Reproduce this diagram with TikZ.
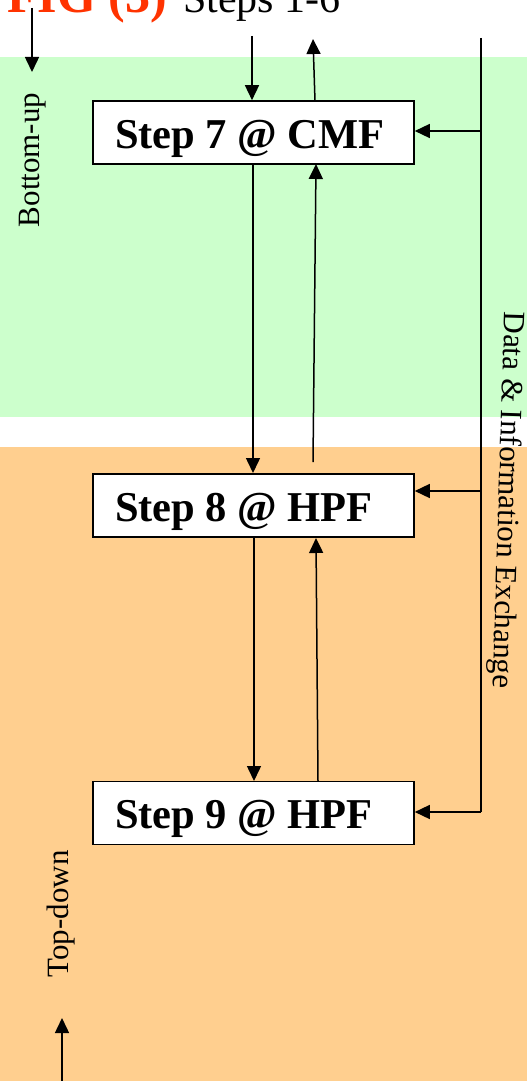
\documentclass[tikz,border=0pt]{standalone}
\usepackage{fontspec}
\setmainfont{Liberation Serif}
\usetikzlibrary{arrows.meta}
\definecolor{bandgreen}{RGB}{204,255,204}
\definecolor{bandorange}{RGB}{255,207,143}
\definecolor{titlered}{RGB}{255,51,0}
\newcommand{\boxtext}[1]{\makebox[277pt][l]{#1}}
\tikzset{
  stepbox/.style={draw=black, line width=1.6pt, fill=white,
    inner xsep=22pt, inner ysep=0pt, minimum height=63pt,
    text height=41pt, text depth=10pt,
    font=\fontsize{42.5}{50}\selectfont\bfseries},
  conn/.style={line width=1.5pt, -{Triangle[length=15pt,width=14pt]}},
  plain/.style={line width=1.5pt},
  sidelabel/.style={font=\fontsize{31}{36}\selectfont, inner sep=0pt}
}
\begin{document}
\begin{tikzpicture}[x=1pt,y=-1pt]
\useasboundingbox (0,0) rectangle (527,1081);
% bands
\fill[bandgreen] (0,57) rectangle (527,417);
\fill[bandorange] (0,447) rectangle (527,1081);
% title fragments
\node[anchor=base east, inner sep=0pt, text=titlered, font=\fontsize{50}{60}\selectfont\bfseries] (title) at (167,13) {FIG (3)};
\node[anchor=base west, inner sep=0pt, font=\fontsize{42}{50}\selectfont] (steps16) at (183,13) {Steps 1-6};
% boxes
\node[stepbox] (s7) at (253.5,132.5) {\boxtext{Step 7 @ CMF}};
\node[stepbox] (s8) at (253.5,505.5) {\boxtext{Step 8 @ HPF}};
\node[stepbox] (s9) at (253.5,813) {\boxtext{Step 9 @ HPF}};
% coordinates
\coordinate (in7) at (252,36);
\coordinate (out7) at (313,39);
\coordinate (busTop) at (481,38);
\coordinate (bus7) at (481,131);
\coordinate (bus8) at (481,491);
\coordinate (bus9) at (481,812);
\coordinate (up8start) at (313,462);
% top arrows
\draw[conn] (in7) -- (in7 |- s7.north);
\draw[conn] (315,101) -- (out7);
% 7 <-> 8
\draw[conn] (253,164) -- (253,473);
\draw[conn] (up8start) -- (316,164);
% 8 <-> 9
\draw[conn] (254,538) -- (254,781);
\draw[conn] (318,781) -- (316,538);
% bus
\draw[plain] (busTop) -- (bus9);
\draw[conn] (bus7) -- (bus7 -| s7.east);
\draw[conn] (bus8) -- (bus8 -| s8.east);
\draw[conn] (bus9) -- (bus9 -| s9.east);
% side labels
\node[sidelabel, rotate=-91.8] (dix) at (506.5,500) {Data \& Information Exchange};
\node[sidelabel, rotate=90] (bu) at (33,160) {Bottom-up};
\node[sidelabel, rotate=90] (td) at (61,914) {Top-down};
\coordinate (buTop) at (32,8);
\coordinate (buTip) at (32,72);
\coordinate (tdBot) at (62,1081);
\coordinate (tdTip) at (62,1018);
\draw[conn] (buTop) -- (buTip);
\draw[conn] (tdBot) -- (tdTip);
\end{tikzpicture}
\end{document}
